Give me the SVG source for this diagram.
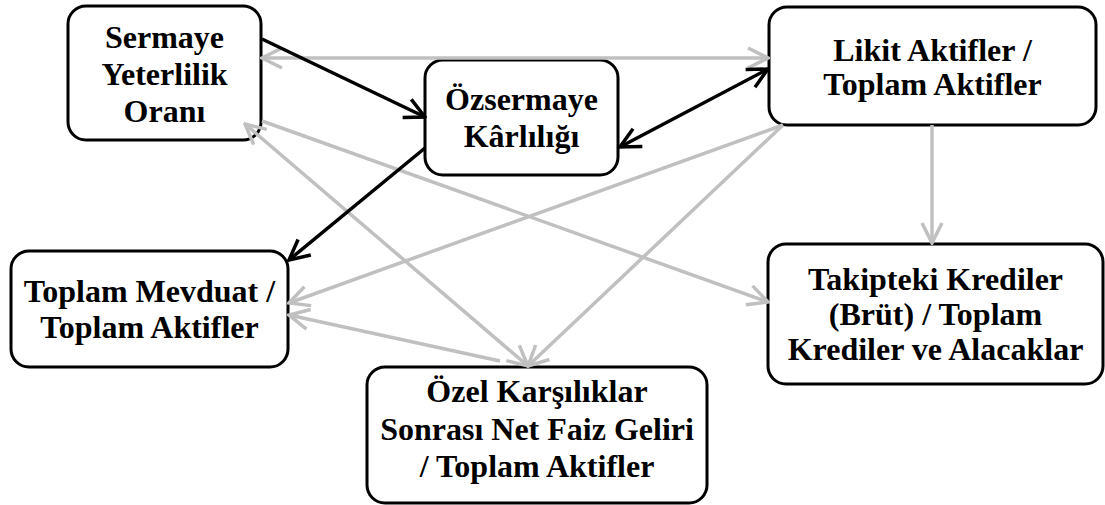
<svg xmlns="http://www.w3.org/2000/svg" width="1105" height="505" viewBox="0 0 1105 505">
<style>
.box{fill:#ffffff;stroke:#000000;stroke-width:3}
.t{fill:#000000;text-anchor:middle}
.blk{stroke:#000000;stroke-width:3.5;fill:none}
.gry{stroke:#c0c0c0;stroke-width:3.5;fill:none}
</style>
<defs>
<marker id="ab" markerUnits="userSpaceOnUse" markerWidth="24" markerHeight="24" viewBox="-22 -12 24 24" refX="0" refY="0" orient="auto-start-reverse">
<path d="M-20,-10 L0,0 L-20,10" fill="none" stroke="#000000" stroke-width="3.5"/>
</marker>
<marker id="ag" markerUnits="userSpaceOnUse" markerWidth="24" markerHeight="24" viewBox="-22 -12 24 24" refX="0" refY="0" orient="auto-start-reverse">
<path d="M-20,-10 L0,0 L-20,10" fill="none" stroke="#c0c0c0" stroke-width="3.5"/>
</marker>
</defs>
<g font-family="Liberation Serif, Times New Roman, serif" font-weight="bold" font-size="32">
<g id="n1"><rect class="box" x="68" y="6" width="193" height="134" rx="18"/>
<text class="t" x="164.5" y="48">Sermaye</text><text class="t" x="164.5" y="85">Yeterlilik</text><text class="t" x="164.5" y="122">Oranı</text></g>
<g id="n2"><rect class="box" x="425" y="60" width="193" height="115" rx="18"/>
<text class="t" x="521.5" y="110">Özsermaye</text><text class="t" x="521.5" y="147">Kârlılığı</text></g>
<g id="n3"><rect class="box" x="769" y="7" width="327" height="118" rx="18"/>
<text class="t" x="932.5" y="61">Likit Aktifler /</text><text class="t" x="932.5" y="95">Toplam Aktifler</text></g>
<g id="n4"><rect class="box" x="11" y="251" width="277" height="116" rx="18"/>
<text class="t" x="149.5" y="302">Toplam Mevduat /</text><text class="t" x="149.5" y="338">Toplam Aktifler</text></g>
<g id="n5"><rect class="box" x="367" y="367" width="340" height="136" rx="18"/>
<text class="t" x="537" y="402">Özel Karşılıklar</text><text class="t" x="537" y="440">Sonrası Net Faiz Geliri</text><text class="t" x="537" y="477">/ Toplam Aktifler</text></g>
<g id="n6"><rect class="box" x="768" y="244" width="335" height="140" rx="18"/>
<text class="t" x="935.5" y="290">Takipteki Krediler</text><text class="t" x="935.5" y="325">(Brüt) / Toplam</text><text class="t" x="935.5" y="360">Krediler ve Alacaklar</text></g>
</g>
<g id="connectors">
<line class="gry" x1="262" y1="58" x2="768" y2="58" marker-start="url(#ag)" marker-end="url(#ag)"/>
<line class="gry" x1="262" y1="121" x2="768" y2="302" marker-end="url(#ag)"/>
<line class="gry" x1="528" y1="366" x2="245" y2="124" marker-start="url(#ag)" marker-end="url(#ag)"/>
<line class="gry" x1="783" y1="125" x2="289" y2="303" marker-end="url(#ag)"/>
<line class="gry" x1="783" y1="125" x2="528" y2="366" marker-end="url(#ag)"/>
<line class="gry" x1="500" y1="361" x2="289" y2="315" marker-end="url(#ag)"/>
<line class="gry" x1="932" y1="125" x2="932" y2="243" marker-end="url(#ag)"/>
<line class="blk" x1="262" y1="39" x2="425" y2="117" marker-end="url(#ab)"/>
<line class="blk" x1="620" y1="147" x2="768" y2="69" marker-start="url(#ab)" marker-end="url(#ab)"/>
<line class="blk" x1="425" y1="148" x2="289" y2="260" marker-end="url(#ab)"/>
</g>
</svg>
